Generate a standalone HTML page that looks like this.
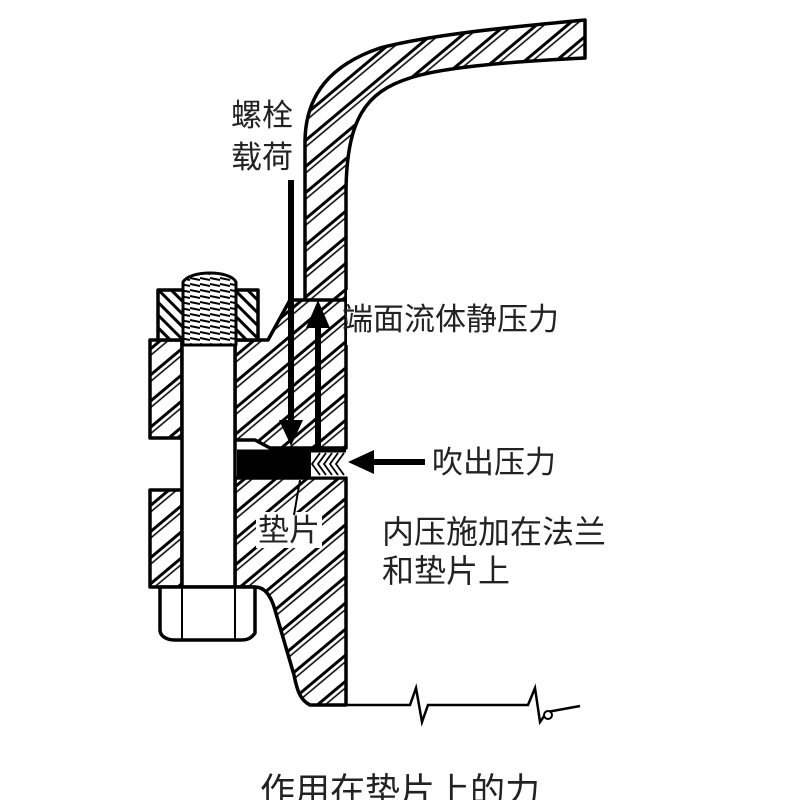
<!DOCTYPE html>
<html><head><meta charset="utf-8"><style>
html,body{margin:0;padding:0;background:#fff;}
svg{display:block}
text{font-family:"Liberation Sans","Noto Sans CJK SC",sans-serif;fill:#222;}
</style></head><body>
<svg width="800" height="800" viewBox="0 0 800 800" xmlns="http://www.w3.org/2000/svg">
<defs>
<pattern id="h" patternUnits="userSpaceOnUse" width="20" height="20" patternTransform="rotate(-40)">
<rect width="20" height="20" fill="#fff"/>
<line x1="0" y1="4" x2="20" y2="4" stroke="#000" stroke-width="3"/>
<line x1="0" y1="9" x2="20" y2="9" stroke="#000" stroke-width="1.6"/>
</pattern>
<pattern id="h2" patternUnits="userSpaceOnUse" width="9" height="9" patternTransform="rotate(45)">
<rect width="9" height="9" fill="#fff"/>
<line x1="0" y1="3" x2="9" y2="3" stroke="#000" stroke-width="3"/>
</pattern>
<pattern id="th" patternUnits="userSpaceOnUse" width="10" height="6">
<rect width="10" height="6" fill="#fff"/>
<line x1="0" y1="2" x2="10" y2="4" stroke="#000" stroke-width="2"/>
</pattern>
</defs>
<g stroke="#000" stroke-width="3.5" stroke-linejoin="round">
<path d="M305 300 L305 140 C306 95 330 65 380 48 C430 35 500 28 585 20 L585 58 C500 62 440 68 410 78 C365 92 347 120 346 190 L346 300" fill="url(#h)"/>
<path d="M235 340 L268 340 L290 300 L305 300 L346 300 L346 448 L270 448 L255 440 L235 440 Z" fill="url(#h)"/>
<rect x="150" y="340" width="32" height="98" fill="url(#h)"/>
<path d="M235 478 L346 478 L346 705 L310 705 C300 700 297 690 294 675 L275 610 C270 592 262 587 255 587 L235 587 Z" fill="url(#h)"/>
<rect x="150" y="490" width="32" height="97" fill="url(#h)"/>
<path d="M158 290 L258 290 L258 340 L158 340 Z" fill="url(#h2)"/>
<path d="M182 340 L235 340 L235 587 L182 587 Z" fill="#fff"/>
<path d="M183 282 C190 270 230 270 236 282 L236 345 L183 345 Z" fill="url(#th)" stroke-width="3"/>
<path d="M160 587 L255 587 L255 633 C250 640 245 640 240 640 L175 640 C165 640 160 635 160 630 Z" fill="#fff"/>
<line x1="182" y1="587" x2="182" y2="640" stroke-width="2"/>
<line x1="235" y1="587" x2="235" y2="640" stroke-width="2"/>
</g>
<rect x="237" y="451" width="75" height="27" fill="#000"/>
<rect x="311" y="451" width="35" height="27" fill="#fff"/>
<g stroke="#000" stroke-width="1.8" fill="none">
<path d="M320 453 l-8 11 l8 11"/><path d="M326 453 l-8 11 l8 11"/><path d="M332 453 l-8 11 l8 11"/><path d="M338 453 l-8 11 l8 11"/><path d="M344 453 l-8 11 l8 11"/>
</g>
<line x1="237" y1="451" x2="346" y2="451" stroke="#000" stroke-width="3"/>
<line x1="237" y1="478" x2="346" y2="478" stroke="#000" stroke-width="3"/>
<rect x="347" y="290" width="220" height="55" fill="#fff"/>
<rect x="256" y="512" width="66" height="36" fill="#fff"/>
<path d="M346 705 L410 705 L416 688 L422 722 L428 705 L528 705 L535 688 L540 722 L547 712 L580 706" stroke="#000" stroke-width="2.5" fill="none"/>
<circle cx="548" cy="715" r="4" fill="#fff" stroke="#000" stroke-width="2"/>
<line x1="300" y1="480" x2="294" y2="515" stroke="#000" stroke-width="2"/>
<rect x="288" y="180" width="6" height="242" fill="#000"/>
<path d="M279 420 L303 420 L291 446 Z" fill="#000"/>
<rect x="315" y="325" width="6" height="125" fill="#000"/>
<path d="M306 328 L330 328 L318 300 Z" fill="#000"/>
<rect x="370" y="459" width="55" height="6" fill="#000"/>
<path d="M374 450 L374 474 L348 462 Z" fill="#000"/>
<text x="231" y="126" font-size="31">螺栓</text>
<text x="231" y="168" font-size="31">载荷</text>
<text x="342" y="330" font-size="31">端面流体静压力</text>
<text x="432" y="473" font-size="31">吹出压力</text>
<text x="258" y="541" font-size="31">垫片</text>
<text x="382" y="543" font-size="32">内压施加在法兰</text>
<text x="382" y="582" font-size="32">和垫片上</text>
<text x="400" y="803" font-size="35" text-anchor="middle">作用在垫片上的力</text>
</svg>
</body></html>
